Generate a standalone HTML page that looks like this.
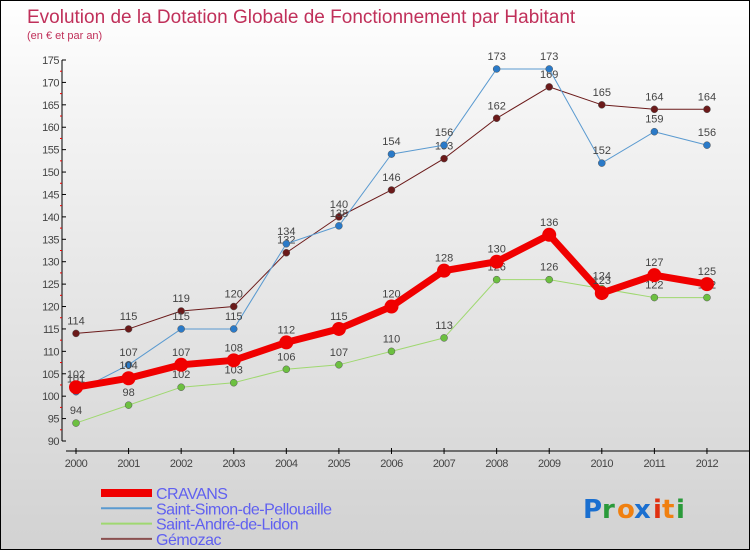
<!DOCTYPE html>
<html><head><meta charset="utf-8"><style>
body{margin:0}
#c{position:relative;width:748px;height:548px;border:1px solid #000;background:linear-gradient(#fff,#f4f4f4 20%,#d2d2d2);font-family:"Liberation Sans",sans-serif;overflow:hidden}
</style></head><body>
<div id="c">
<svg id="s" width="748" height="548">
<text x="26" y="22" font-size="19" fill="#c0305a">Evolution de la Dotation Globale de Fonctionnement par Habitant</text>
<text x="26" y="38" font-size="11" fill="#c0305a">(en € et par an)</text>
<g id="axes"></g><g id="series"></g><g id="legend"></g>
<g font-size="26" font-family="'DejaVu Sans',sans-serif" font-weight="bold">
<text x="582" y="517" fill="#1a6fd0">P</text><text x="601" y="517" fill="#2a9a3a">r</text><text x="616" y="517" fill="#f08010">o</text><text x="633" y="517" fill="#1a6fd0">x</text><text x="652" y="517" fill="#e03010">i</text><text x="661" y="517" fill="#f08010">t</text><text x="675" y="517" fill="#2a9a3a">i</text></g>
</svg></div>
<script>
const years=[2000,2001,2002,2003,2004,2005,2006,2007,2008,2009,2010,2011,2012];
const cravans=[102,104,107,108,112,115,120,128,130,136,123,127,125];
const stSimon=[101,107,115,115,134,138,154,156,173,173,152,159,156];
const stAndre=[94,98,102,103,106,107,110,113,126,126,124,122,122];
const gemozac=[114,115,119,120,132,140,146,153,162,169,165,164,164];
const yTicks=[90,95,100,105,110,115,120,125,130,135,140,145,150,155,160,165,170,175];
const NS="http://www.w3.org/2000/svg";
const X=i=>75+i*52.58, Y=v=>440-(v-90)*(381/85);
function mk(t,a,p){const e=document.createElementNS(NS,t);for(const k in a)e.setAttribute(k,a[k]);p.appendChild(e);return e;}
const ax=document.getElementById('axes');
let e=mk('line',{x1:61,y1:Y(175),x2:61,y2:Y(90),stroke:'#000'},ax);

yTicks.forEach(v=>{mk('line',{x1:61,x2:65,y1:Y(v),y2:Y(v),stroke:'#000'},ax);
 if(v<175)mk('line',{x1:59,x2:61,y1:Y(v+2.5),y2:Y(v+2.5),stroke:'#e00'},ax);
 const t=mk('text',{x:58,y:Y(v)+4,'text-anchor':'end','font-size':11,fill:'#444','letter-spacing':'-0.5'},ax);t.textContent=v;
 });
e=mk('line',{x1:65,y1:450,x2:748,y2:450,stroke:'#000'},ax);

years.forEach((y,i)=>{mk('line',{x1:X(i),x2:X(i),y1:447,y2:453,stroke:'#000'},ax);
 const t=mk('text',{x:X(i),y:466,'text-anchor':'middle','font-size':11,fill:'#444','letter-spacing':'-0.5'},ax);t.textContent=y;
 });
const sg=document.getElementById('series');
const S=[[gemozac,'#6b1a1a','#6b1a1a',1,'gemozac'],[stSimon,'#5a9ad0','#2a7ac8',1,'saint-simon'],[stAndre,'#9fd870','#6cc040',1,'saint-andre'],[cravans,'#f00000','#f00000',7,'cravans']];
S.forEach(([d,c,dc,w,n])=>{
 const l=mk('polyline',{points:d.map((v,i)=>X(i)+','+Y(v)).join(' '),fill:'none',stroke:c,'stroke-width':w,'stroke-linejoin':'round'},sg);
 
 d.forEach((v,i)=>{const p=mk('circle',{cx:X(i),cy:Y(v),r:w>1?7:3.5,fill:dc,stroke:w>1?'none':'#555','stroke-width':0.5},sg);
  
  const t=mk('text',{x:X(i),y:Y(v)-9,'text-anchor':'middle','font-size':11,fill:'#444'},sg);t.textContent=v;
  });
});
const lg=document.getElementById('legend');
[['CRAVANS','#f00000',8],['Saint-Simon-de-Pellouaille','#5a9ad0',2],['Saint-André-de-Lidon','#9fd870',2],['Gémozac','#8a5050',2]].forEach(([n,c,w],i)=>{
 const y=492+i*15.3;
 mk('line',{x1:100,x2:151,y1:y,y2:y,stroke:c,'stroke-width':w},lg);
 const t=mk('text',{x:155,y:y+6,'font-size':16,fill:'#6060f0','letter-spacing':'-0.5'},lg);t.textContent=n;
 });
</script></body></html>
